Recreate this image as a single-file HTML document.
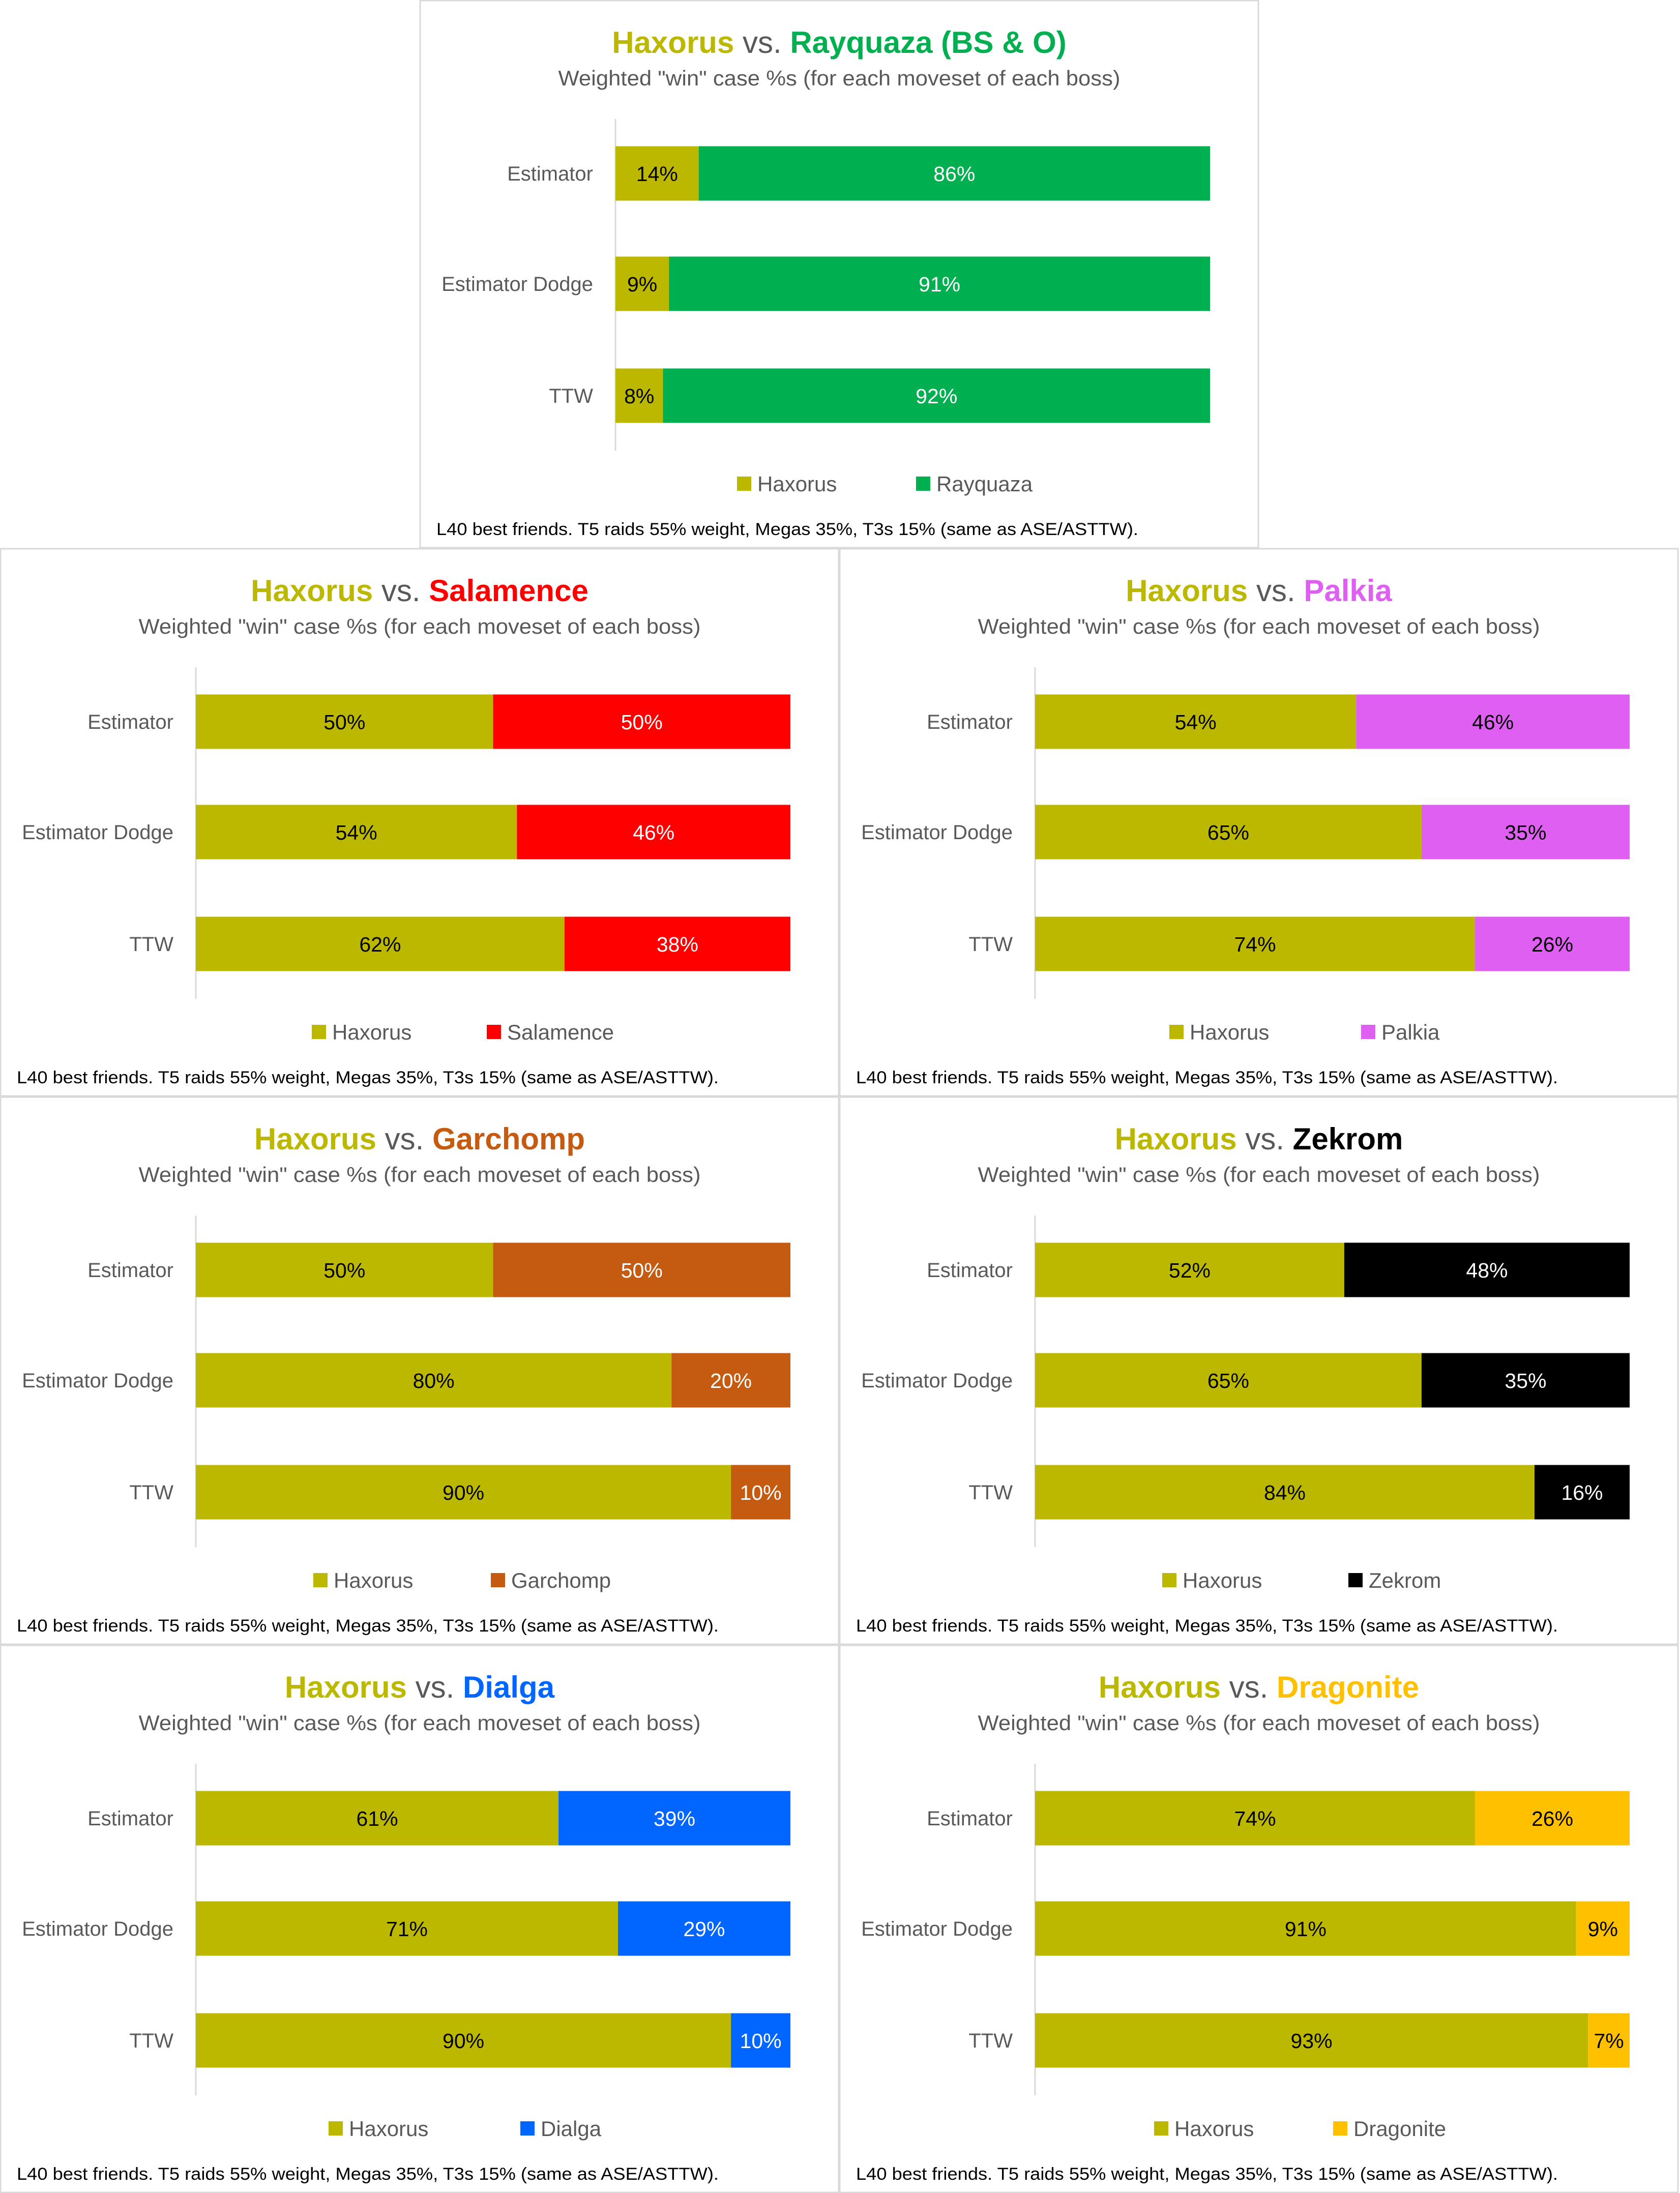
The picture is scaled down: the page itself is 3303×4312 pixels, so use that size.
<!DOCTYPE html>
<html><head><meta charset="utf-8">
<style>
html,body{margin:0;padding:0;background:#fff;}
svg{display:block;font-family:"Liberation Sans",Arial,sans-serif;}
</style></head>
<body>
<svg id="chart" width="3303" height="4312" viewBox="0 0 3303 4312" xmlns="http://www.w3.org/2000/svg"></svg>
<script>
const categories = ["Estimator", "Estimator Dodge", "TTW"];
const bosses = ["Rayquaza", "Salamence", "Palkia", "Garchomp", "Zekrom", "Dialga", "Dragonite"];
const titleSuffix = [" (BS & O)", "", "", "", "", "", ""];
const haxorusRay = [14, 9, 8];
const haxorusSal = [50, 54, 62];
const haxorusPal = [54, 65, 74];
const haxorusGar = [50, 80, 90];
const haxorusZek = [52, 65, 84];
const haxorusDia = [61, 71, 90];
const haxorusDra = [74, 91, 93];
const haxorusSeries = [haxorusRay, haxorusSal, haxorusPal, haxorusGar, haxorusZek, haxorusDia, haxorusDra];
const bossColors = ["#00B050", "#FF0000", "#DE5FF2", "#C55A11", "#000000", "#0066FF", "#FFC000"];
const bossLabelColors = ["#ffffff", "#ffffff", "#000000", "#ffffff", "#ffffff", "#ffffff", "#000000"];
const HAX = "#BCB800";
const footnote = "L40 best friends. T5 raids 55% weight, Megas 35%, T3s 15% (same as ASE/ASTTW).";

const svg = document.getElementById('chart');
const NS = "http://www.w3.org/2000/svg";
function mk(tag, attrs, parent) {
  const e = document.createElementNS(NS, tag);
  for (const k in attrs) e.setAttribute(k, attrs[k]);
  (parent || svg).appendChild(e);
  return e;
}
const origins = [[825,0],[0,1078],[1650,1078],[0,2156],[1650,2156],[0,3234],[1650,3234]];
const legendX = [[624,976],[613,957],[649,1026],[616,965],[635,1001],[646,1023],[619,971]];
const PW = 1650, PH = 1078;
const AX0 = 385, AX1 = 1554;
const bandCenters = [341, 558, 778];
const barH = 107;
function xScale(v) { return AX0 + (AX1 - AX0) * v / 100; }

bosses.forEach((boss, i) => {
  const [ox, oy] = origins[i];
  const g = mk('g', {transform: `translate(${ox},${oy})`});
  
  
  const bg = mk('rect', {x: 1, y: 1, width: PW - 2, height: PH - 2, fill: '#fff', stroke: '#D9D9D9', 'stroke-width': 3}, g);
  
  
  const t = mk('text', {x: 825, y: 104, 'text-anchor': 'middle', 'font-size': 60, 'font-weight': 'bold'}, g);
  
  
  const s1 = mk('tspan', {fill: HAX}, t); s1.textContent = 'Haxorus';
  const s2 = mk('tspan', {fill: '#595959', 'font-weight': 'normal'}, t); s2.textContent = ' vs. ';
  const s3 = mk('tspan', {fill: bossColors[i]}, t); s3.textContent = boss + titleSuffix[i];
  const st = mk('text', {x: 825, y: 168, 'text-anchor': 'middle', 'font-size': 42, fill: '#595959', textLength: 1105, lengthAdjust: 'spacingAndGlyphs'}, g);
  
  
  st.textContent = 'Weighted "win" case %s (for each moveset of each boss)';
  const ax = mk('line', {x1: AX0, x2: AX0, y1: 234, y2: 886, stroke: '#D9D9D9', 'stroke-width': 3}, g);
  
  
  const vals = haxorusSeries[i];
  categories.forEach((cat, j) => {
    const cy = bandCenters[j];
    const lab = mk('text', {x: 341, y: cy + 14, 'text-anchor': 'end', 'font-size': 40, fill: '#595959'}, g);
    
    
    lab.textContent = cat;
    const hv = vals[j], bv = 100 - hv;
    const r1 = mk('rect', {x: xScale(0), y: cy - barH/2, width: xScale(hv) - xScale(0), height: barH, fill: HAX}, g);
    
    
    const r2 = mk('rect', {x: xScale(hv), y: cy - barH/2, width: xScale(100) - xScale(hv), height: barH, fill: bossColors[i]}, g);
    
    
    const l1 = mk('text', {x: (xScale(0) + xScale(hv))/2, y: cy + 15, 'text-anchor': 'middle', 'font-size': 41, fill: '#000'}, g);
    
    
    l1.textContent = hv + '%';
    const l2 = mk('text', {x: (xScale(hv) + xScale(100))/2, y: cy + 15, 'text-anchor': 'middle', 'font-size': 41, fill: bossLabelColors[i]}, g);
    
    
    l2.textContent = bv + '%';
  });
  const names = ['Haxorus', boss], cols = [HAX, bossColors[i]];
  names.forEach((n, k) => {
    const lx = legendX[i][k];
    const lg = mk('g', {}, g);
    
    
    mk('rect', {x: lx, y: 937, width: 28, height: 28, fill: cols[k]}, lg);
    const lt = mk('text', {x: lx + 40, y: 966, 'font-size': 42, fill: '#595959'}, lg);
    lt.textContent = n;
  });
  const fn = mk('text', {x: 33, y: 1052, 'font-size': 34, fill: '#000', textLength: 1380, lengthAdjust: 'spacingAndGlyphs'}, g);
  
  
  fn.textContent = footnote;
});
</script>
</body></html>
